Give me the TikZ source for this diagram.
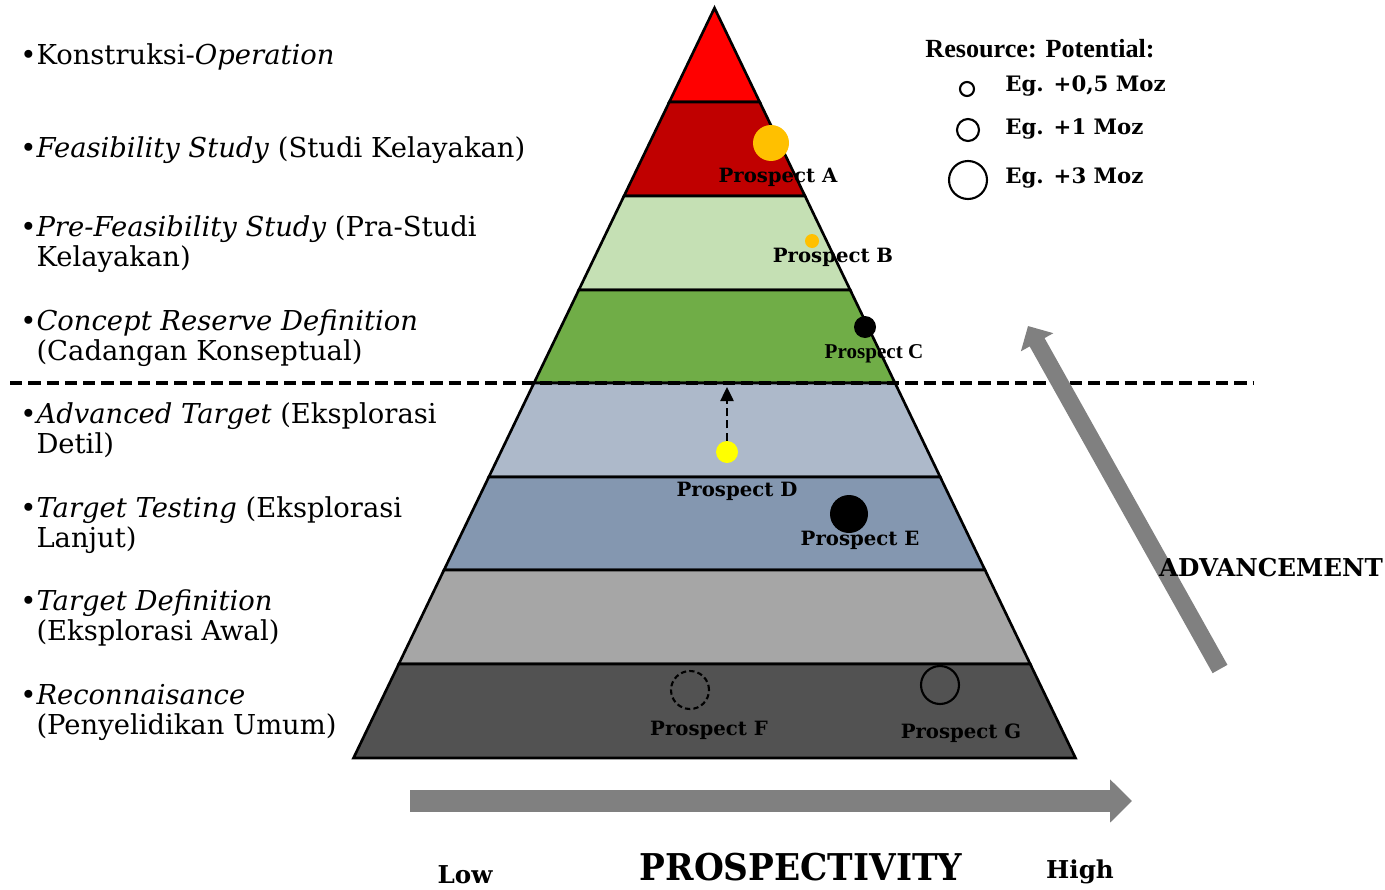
\documentclass[tikz,border=0pt]{standalone}
\usepackage{fontspec}
\setmainfont{DejaVu Serif}
\newfontfamily\termesfont{Liberation Serif}
\usepackage{graphicx}
\usetikzlibrary{arrows.meta}

\definecolor{lvTop}{HTML}{FF0000}
\definecolor{lvFeas}{HTML}{C00000}
\definecolor{lvPre}{HTML}{C5E0B4}
\definecolor{lvConcept}{HTML}{70AD47}
\definecolor{lvAdv}{HTML}{ADB9CA}
\definecolor{lvTest}{HTML}{8497B0}
\definecolor{lvDef}{HTML}{A6A6A6}
\definecolor{lvRecon}{HTML}{525252}
\definecolor{dotOrange}{HTML}{FFC000}
\definecolor{dotYellow}{HTML}{FFFF00}
\definecolor{arrowGray}{HTML}{808080}

\tikzset{
  layer/.style={draw=black, line width=1.5pt, line join=miter},
  stagelabel/.style={anchor=base west, inner sep=0pt, font=\fontsize{15.6}{17.2}\selectfont},
  prosplabel/.style={inner sep=0pt, font=\fontsize{11.2}{13}\selectfont\bfseries},
  legendtext/.style={anchor=west, inner sep=0pt, font=\fontsize{12.1}{14}\selectfont\bfseries},
  dot/.style={circle, inner sep=0pt, draw=none},
  ring/.style={circle, inner sep=0pt, draw=black, line width=1.2pt},
  bigarrow/.style={draw=arrowGray, line cap=butt},
  divider/.style={draw=black, line width=2.1pt, dash pattern=on 7pt off 3.4pt},
}

\begin{document}
\begin{tikzpicture}[x=0.02cm, y=-0.02cm]
\useasboundingbox (0,0) rectangle (1385,889);

% ---- pyramid layers (top to bottom) ----
\filldraw[layer, fill=lvTop]     (714.5,8) -- (759.7,102) -- (669.3,102) -- cycle;
\filldraw[layer, fill=lvFeas]    (669.3,102) -- (759.7,102) -- (805.0,196) -- (624.0,196) -- cycle;
\filldraw[layer, fill=lvPre]     (624.0,196) -- (805.0,196) -- (850.2,290) -- (578.8,290) -- cycle;
\filldraw[layer, fill=lvConcept] (578.8,290) -- (850.2,290) -- (895.0,383) -- (534.0,383) -- cycle;
\filldraw[layer, fill=lvAdv]     (534.0,383) -- (895.0,383) -- (940.2,477) -- (488.8,477) -- cycle;
\filldraw[layer, fill=lvTest]    (488.8,477) -- (940.2,477) -- (985.0,570) -- (444.0,570) -- cycle;
\filldraw[layer, fill=lvDef]     (444.0,570) -- (985.0,570) -- (1030.2,664) -- (398.8,664) -- cycle;
\filldraw[layer, fill=lvRecon]   (398.8,664) -- (1030.2,664) -- (1075.5,758) -- (353.5,758) -- cycle;

% ---- boundary between exploration and resource stages ----
\coordinate (divL) at (10,383);
\coordinate (divR) at (1253,383);
\draw[divider] (divL) -- (divR);

% ---- stage descriptions ----
\node[stagelabel] (s1) at (20,64) {\textbullet Konstruksi-\textit{Operation}};
\node[stagelabel] (s2) at (20,157) {\textbullet\textit{Feasibility Study} (Studi Kelayakan)};
\node[stagelabel] (s3) at (20,236) {\begin{tabular}[t]{@{}l@{}l@{}}\textbullet&\textit{Pre-Feasibility Study} (Pra-Studi\\&Kelayakan)\end{tabular}};
\node[stagelabel] (s4) at (20,330) {\begin{tabular}[t]{@{}l@{}l@{}}\textbullet&\textit{Concept Reserve Definition}\\&(Cadangan Konseptual)\end{tabular}};
\node[stagelabel] (s5) at (20,423) {\begin{tabular}[t]{@{}l@{}l@{}}\textbullet&\textit{Advanced Target} (Eksplorasi\\&Detil)\end{tabular}};
\node[stagelabel] (s6) at (20,517) {\begin{tabular}[t]{@{}l@{}l@{}}\textbullet&\textit{Target Testing} (Eksplorasi\\&Lanjut)\end{tabular}};
\node[stagelabel] (s7) at (20,610) {\begin{tabular}[t]{@{}l@{}l@{}}\textbullet&\textit{Target Definition}\\&(Eksplorasi Awal)\end{tabular}};
\node[stagelabel] (s8) at (20,704) {\begin{tabular}[t]{@{}l@{}l@{}}\textbullet&\textit{Reconnaisance}\\&(Penyelidikan Umum)\end{tabular}};

% ---- prospects ----
\node[dot, fill=dotOrange, minimum size=0.72cm] (pA) at (771,143) {};
\node[prosplabel] (lA) at (778,177) {Prospect A};
\node[dot, fill=dotOrange, minimum size=0.28cm] (pB) at (812,241) {};
\node[prosplabel] (lB) at (833,257) {Prospect B};
\node[dot, fill=black, minimum size=0.44cm] (pC) at (865,327) {};
\node[prosplabel, font=\fontsize{12}{14}\termesfont\bfseries] (lC) at (874,354) {Prospect C};
\node[dot, fill=dotYellow, minimum size=0.44cm] (pD) at (727,452) {};
\node[prosplabel] (lD) at (737,491) {Prospect D};
\node[dot, fill=black, minimum size=0.76cm] (pE) at (849,514) {};
\node[prosplabel] (lE) at (860,540) {Prospect E};
\node[ring, dash pattern=on 3pt off 1.8pt, minimum size=0.76cm] (pF) at (690,690) {};
\node[prosplabel] (lF) at (709,730) {Prospect F};
\node[ring, minimum size=0.76cm] (pG) at (940,685) {};
\node[prosplabel] (lG) at (961,733) {Prospect G};

% advancement of prospect D
\coordinate (Dgoal) at (727,387);
\draw[line width=1.2pt, dash pattern=on 4.5pt off 2.5pt, -{Triangle[length=8pt,width=7.5pt]}] (pD.north) -- (Dgoal);

% ---- legend ----
\node[anchor=west, inner sep=0pt, font=\fontsize{14.9}{17}\termesfont\bfseries] (legT) at (925,49) {Resource: Potential:};
\node[ring, minimum size=0.28cm] (leg1) at (967,89) {};
\node[legendtext] (legL1) at (1005,86) {Eg. +0,5 Moz};
\node[ring, minimum size=0.44cm] (leg2) at (968,130) {};
\node[legendtext] (legL2) at (1005,129) {Eg. +1 Moz};
\node[ring, minimum size=0.76cm] (leg3) at (968,180) {};
\node[legendtext] (legL3) at (1005,178) {Eg. +3 Moz};

% ---- advancement arrow ----
\coordinate (advTail) at (1220,669);
\coordinate (advTip) at (1028,326);
\draw[bigarrow, line width=9.7pt, -{Triangle[length=10.6pt,width=20.5pt]}] (advTail) -- (advTip);
\node[inner sep=0pt, font=\fontsize{14}{16}\selectfont\bfseries] (adv) at (1271,568) {ADVANCEMENT};

% ---- prospectivity arrow ----
\coordinate (prLow) at (410,801);
\coordinate (prHigh) at (1132,801);
\draw[bigarrow, line width=12.5pt, -{Triangle[length=12.5pt,width=23.9pt]}] (prLow) -- (prHigh);
\node[inner sep=0pt, font=\fontsize{14}{16}\selectfont\bfseries] (low) at (465,875) {Low};
\node[inner sep=0pt, font=\fontsize{21}{24}\selectfont\bfseries] (pros) at (801,867) {\scalebox{0.93}[1]{PROSPECTIVITY}};
\node[inner sep=0pt, font=\fontsize{14}{16}\selectfont\bfseries] (high) at (1080,872) {High};
\end{tikzpicture}
\end{document}
